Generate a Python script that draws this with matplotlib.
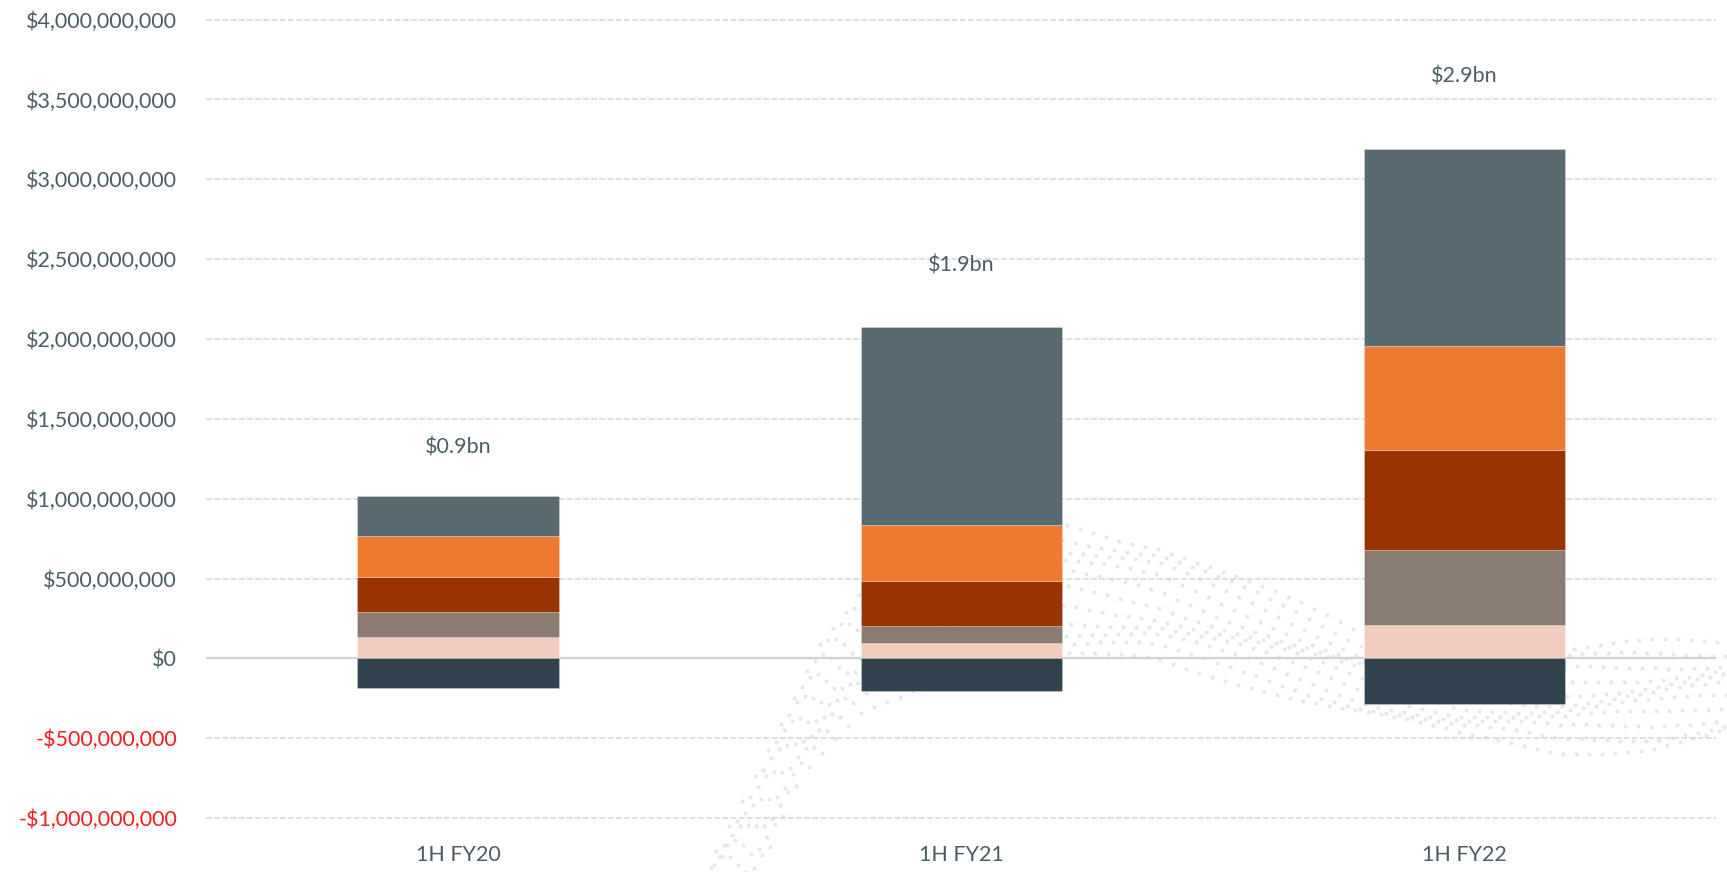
import numpy as np
import matplotlib
matplotlib.use("Agg")
import matplotlib.pyplot as plt
from matplotlib.ticker import FixedLocator, FuncFormatter

# ---- data -----------------------------------------------------------------
categories = ["1H FY20", "1H FY21", "1H FY22"]
pink_vals = [135e6, 98e6, 211e6]
taupe_vals = [155e6, 105e6, 467e6]
rust_vals = [217e6, 284e6, 626e6]
orange_vals = [257e6, 349e6, 651e6]
slate_vals = [254e6, 1238e6, 1234e6]
negative_vals = [-188e6, -203e6, -287e6]
total_labels = ["$0.9bn", "$1.9bn", "$2.9bn"]
y_ticks = [-1e9, -5e8, 0, 5e8, 1e9, 1.5e9, 2e9, 2.5e9, 3e9, 3.5e9, 4e9]

# ---- styling --------------------------------------------------------------
FONT = ["Lato", "DejaVu Sans"]
TEXT = "#4d5d67"
NEG_TEXT = "#f41e1e"
GRID = "#d6d6d6"
FS = 15.5
stack_colors = ["#f0cdbf", "#8a7b73", "#993300", "#ec7a31", "#5a6a71"]
neg_color = "#30434e"
label_gap_px = [48, 62, 73]

plt.rcParams["font.family"] = FONT
plt.rcParams["lines.scale_dashes"] = False

W, H, DPI = 1727, 872, 100
fig = plt.figure(figsize=(W / DPI, H / DPI), dpi=DPI)
fig.patch.set_facecolor("white")

# decorative dotted ribbon drawn in pixel space behind the chart
bg = fig.add_axes([0, 0, 1, 1], zorder=0)
bg.set_xlim(0, W)
bg.set_ylim(H, 0)
bg.axis("off")
upper_x = [690, 760, 820, 880, 960, 1060, 1160, 1260, 1360, 1460, 1560, 1650, 1740]
upper_y = [900, 760, 640, 570, 530, 520, 545, 590, 635, 652, 652, 645, 642]
lower_x = [750, 800, 860, 940, 1040, 1150, 1260, 1360, 1460, 1560, 1650, 1740]
lower_y = [900, 780, 710, 672, 658, 660, 684, 712, 738, 750, 745, 730]
n_strands = 11
for k in range(n_strands):
    t = k / (n_strands - 1)
    xs = np.arange(690 + 8 * k, 1740, 13.0)
    yu = np.interp(xs, upper_x, upper_y)
    yl = np.interp(xs, lower_x, lower_y)
    ys = yu * (1 - t) + yl * t
    ys = ys + 6 * np.sin(xs / 55.0 + k)
    keep = ys < H + 5
    bg.scatter(xs[keep], ys[keep], s=9, color="#e1e7e8", alpha=0.9,
               linewidths=0)

# ---- main axes --------------------------------------------------------------
px_per_bn = 159.7
y_zero_px = 658.4
ylo, yhi = -1.02e9, 4.02e9
top_px = y_zero_px - yhi / 1e9 * px_per_bn
bot_px = y_zero_px - ylo / 1e9 * px_per_bn
ax_left, ax_right = 206.3, 1716.2
ax = fig.add_axes([ax_left / W, (H - bot_px) / H,
                   (ax_right - ax_left) / W, (bot_px - top_px) / H], zorder=1)
ax.patch.set_alpha(0)
ax.set_xlim(-0.5, 2.5)
ax.set_ylim(ylo, yhi)

x = np.arange(len(categories))
bar_w = 0.4

for yv in y_ticks:
    if yv == 0:
        ax.axhline(0, color="#d2d2d2", lw=1.6, zorder=1)
    else:
        ax.axhline(yv, color=GRID, lw=1.1, dashes=(4.3, 1.6), zorder=1)

bottom = np.zeros(len(categories))
for vals, col in zip([pink_vals, taupe_vals, rust_vals, orange_vals, slate_vals],
                     stack_colors):
    vals = np.asarray(vals)
    ax.bar(x, vals, bar_w, bottom=bottom, color=col, edgecolor=(1, 1, 1, 0.3),
           linewidth=0.6, zorder=2)
    bottom = bottom + vals
ax.bar(x, negative_vals, bar_w, color=neg_color, edgecolor=(1, 1, 1, 0.3),
       linewidth=0.6, zorder=2)

for xi, top, lab, gap in zip(x, bottom, total_labels, label_gap_px):
    ax.annotate(lab, (xi, top), xytext=(0, gap * 72 / DPI),
                textcoords="offset points", ha="center", va="center",
                fontsize=FS, color=TEXT)

for s in ax.spines.values():
    s.set_visible(False)

ax.yaxis.set_major_locator(FixedLocator(y_ticks))


def money(v, _pos=None):
    if v < 0:
        return "-${:,.0f}".format(-v)
    return "${:,.0f}".format(v)


ax.yaxis.set_major_formatter(FuncFormatter(money))
ax.tick_params(axis="y", length=0, pad=21, labelsize=FS, labelcolor=TEXT)
for t, v in zip(ax.get_yticklabels(), y_ticks):
    if v < 0:
        t.set_color(NEG_TEXT)

ax.set_xticks(x)
ax.set_xticklabels(categories)
ax.tick_params(axis="x", length=0, pad=17, labelsize=FS, labelcolor=TEXT)

fig.savefig("out.png", dpi=DPI, facecolor="white")
